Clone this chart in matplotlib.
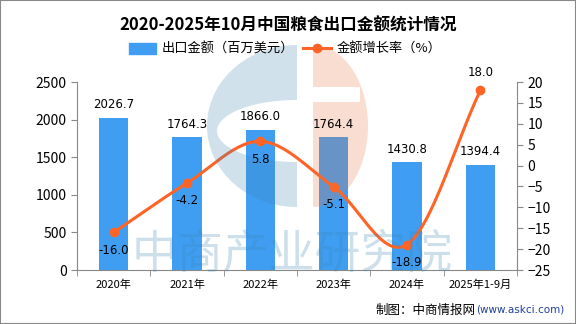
import matplotlib
matplotlib.use("Agg")
import matplotlib.pyplot as plt
import numpy as np
from matplotlib.lines import Line2D
from matplotlib.patches import Patch, Rectangle, Polygon

plt.rcParams['font.family'] = ['Noto Sans CJK SC', 'DejaVu Sans']

categories = ["2020年", "2021年", "2022年", "2023年", "2024年", "2025年1-9月"]
export_value = [2026.7, 1764.3, 1866.0, 1764.4, 1430.8, 1394.4]
growth_rate = [-16.0, -4.2, 5.8, -5.1, -18.9, 18.0]

bar_color = "#3F9EF2"
line_color = "#FF6426"

W, H = 576, 324
fig = plt.figure(figsize=(W / 100, H / 100), dpi=100)
fig.patches.append(Rectangle((0, 0), 1, 1, transform=fig.transFigure, fill=False,
                             edgecolor="#888888", linewidth=1.5))
ax = fig.add_axes([77 / W, 1 - 270 / H, (517 - 77) / W, (270 - 82) / H])
ax2 = ax.twinx()

x = np.arange(len(categories))
ax.bar(x, export_value, width=0.4, color=bar_color, zorder=2)
ax.set_xlim(-0.5, len(categories) - 0.5)
ax.set_ylim(0, 2500)
ax.set_yticks(np.arange(0, 2501, 500))
ax2.set_ylim(-25, 20)
ax2.set_yticks(np.arange(-25, 21, 5))

# smooth rendering of the line through the data points (Catmull-Rom)
def catmull(xs, ys, n=30):
    xs = np.asarray(xs, float); ys = np.asarray(ys, float)
    px = np.concatenate([[2 * xs[0] - xs[1]], xs, [2 * xs[-1] - xs[-2]]])
    py = np.concatenate([[2 * ys[0] - ys[1]], ys, [2 * ys[-1] - ys[-2]]])
    ox, oy = [], []
    for i in range(1, len(px) - 2):
        t = np.linspace(0, 1, n)
        for arr, out in ((px, ox), (py, oy)):
            p0, p1, p2, p3 = arr[i - 1], arr[i], arr[i + 1], arr[i + 2]
            out.extend(0.5 * ((2 * p1) + (-p0 + p2) * t + (2 * p0 - 5 * p1 + 4 * p2 - p3) * t ** 2
                              + (-p0 + 3 * p1 - 3 * p2 + p3) * t ** 3))
    return np.array(ox), np.array(oy)

sx, sy = catmull(x, growth_rate)
ax2.plot(sx, sy, color=line_color, linewidth=2.2, zorder=3)
ax2.plot(x, growth_rate, 'o', color=line_color, markersize=6, zorder=4)

ax.set_xticks(x)
ax.set_xticklabels(categories, fontsize=8)
ax.set_xticks(np.arange(-0.5, len(categories), 1), minor=True)
ax.tick_params(axis='x', which='major', length=0, pad=7)
ax.tick_params(axis='x', which='minor', length=4, color="#888888")
for a in (ax, ax2):
    a.spines['top'].set_visible(False)
ax.spines['right'].set_visible(False)
ax2.spines['left'].set_visible(False)
ax2.spines['bottom'].set_visible(False)
for sp in (ax.spines['left'], ax.spines['bottom'], ax2.spines['right']):
    sp.set_color("#888888")
ax.tick_params(axis='y', labelsize=10, color="#888888", length=4)
ax2.tick_params(axis='y', labelsize=10, color="#888888", length=4)
ax.set_zorder(1); ax2.set_zorder(2); ax2.patch.set_visible(False)

# overlay (pixel coordinates) for the watermark logo
ov = fig.add_axes([0, 0, 1, 1], zorder=3)
ov.set_xlim(0, W); ov.set_ylim(H, 0); ov.axis('off'); ov.patch.set_visible(False)
logo_blue = (59 / 255, 132 / 255, 177 / 255)
logo_orange = (232 / 255, 114 / 255, 59 / 255)
alpha = 0.24
# blue "C"
cx, cy = 297, 126
th_o = np.linspace(np.pi / 2, 3 * np.pi / 2, 60)
outer = np.c_[cx + 90 * np.cos(th_o), cy - 81 * np.sin(th_o)]
th_i = np.linspace(3 * np.pi / 2, np.pi / 2, 60)
inner = np.c_[cx + 80 * np.cos(th_i), 131 - 31 * np.sin(th_i)]
ov.add_patch(Polygon(np.vstack([outer, inner]), closed=True, facecolor=logo_blue,
                     edgecolor='none', alpha=alpha))
# orange right half with notch
ox0 = 313
th = np.linspace(np.pi / 2, -np.pi / 2, 60)
arc = np.c_[ox0 + 55 * np.cos(th), cy - 81 * np.sin(th)]
top_part = arc[arc[:, 1] <= 87]
rest = arc[arc[:, 1] > 87]
orange_pts = np.vstack([
    top_part,
    [[ox0 + 55 * np.sqrt(max(0, 1 - ((87 - cy) / 81) ** 2)), 87]],
    rest,
    [[ox0, 102], [360, 102], [360, 87], [ox0, 87]],
])
ov.add_patch(Polygon(orange_pts, closed=True, facecolor=logo_orange, edgecolor='none', alpha=alpha))
ov.text(292, 255, "中商产业研究院", fontsize=33, color=logo_blue, alpha=0.26,
        ha='center', va='center', fontweight='medium')

# value labels on top of everything
for i, v in enumerate(export_value):
    ov.text(i, v + 90, f"{v:.1f}", ha='center', va='bottom', fontsize=8.5,
            family=['DejaVu Sans'], transform=ax.transData, clip_on=False, zorder=6)
for i, v in enumerate(growth_rate):
    if v > 10:
        ov.text(i, v + 2.6, f"{v:.1f}", ha='center', va='bottom', fontsize=8.5,
                family=['DejaVu Sans'], transform=ax2.transData, clip_on=False, zorder=6)
    else:
        ov.text(i, v - 2.7, f"{v:.1f}", ha='center', va='top', fontsize=8.5,
                family=['DejaVu Sans'], transform=ax2.transData, clip_on=False, zorder=6)

fig.text(288 / W, 1 - 26 / H, "2020-2025年10月中国粮食出口金额统计情况", ha='center', va='center',
         fontsize=12, fontweight='bold')
handles = [Patch(color=bar_color, label="出口金额（百万美元）"),
           Line2D([0], [0], color=line_color, lw=2.2, marker='o', markersize=6, label="金额增长率（%）")]
fig.legend(handles=handles, loc='center', bbox_to_anchor=(285 / W, 1 - 49 / H), ncol=2,
           frameon=False, fontsize=9.5, handlelength=2.1, handleheight=0.9,
           columnspacing=0.7, handletextpad=0.4)

t_url = fig.text(564 / W, 1 - 310 / H, "(www.askci.com)", ha='right', va='center',
                 fontsize=7.5, color="#1F3F99", family=['DejaVu Sans'])
fig.canvas.draw()
bb = t_url.get_window_extent()
fig.text(bb.x0 / W, 1 - 310 / H, "制图：中商情报网", ha='right', va='center', fontsize=9)

fig.savefig("out.png", dpi=100)
